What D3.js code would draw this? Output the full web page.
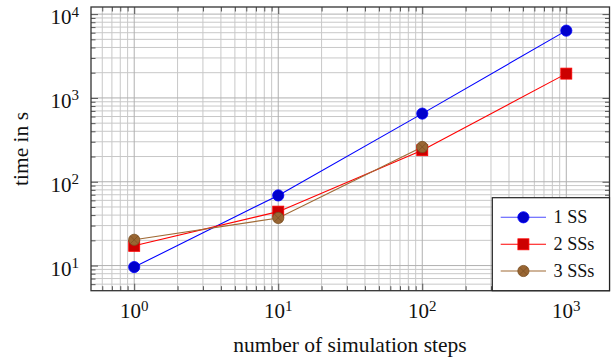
<!DOCTYPE html>
<html>
<head>
<meta charset="utf-8">
<script src="https://cdn.jsdelivr.net/npm/d3@7"></script>
<style>
  html, body { margin: 0; padding: 0; background: #fff; }
  svg { display: block; }
</style>
</head>
<body>
<div id="chart"></div>
<script>
// ---- data ----
const steps = [1, 10, 100, 1000];
const ss1 = [9.6, 68.7, 650, 6350];
const ss2 = [17.2, 44, 238, 1950];
const steps3 = [1, 10, 100];
const ss3 = [20.3, 37, 260];
const seriesNames = ["1 SS", "2 SSs", "3 SSs"];
const xTickExps = [0, 1, 2, 3];
const yTickExps = [1, 2, 3, 4];

(function () {
const W = 615, H = 357;
const pLeft = 91, pRight = 609.5, pTop = 7, pBottom = 290.7;
const FONT = "'Liberation Serif', 'Times New Roman', Times, serif";

const series = [
  { name: seriesNames[0], xs: steps, ys: ss1, line: "#0000ff", fill: "#0000cc", stroke: "#0000ff", mark: "circle" },
  { name: seriesNames[1], xs: steps, ys: ss2, line: "#ff0000", fill: "#cc0000", stroke: "#ff0000", mark: "square" },
  { name: seriesNames[2], xs: steps3, ys: ss3, line: "#a06a35", fill: "#996633", stroke: "#7a4f22", mark: "otimes" }
];

// domain with 10% log enlargement (pgfplots style)
const allY = [].concat(ss1, ss2, ss3).map(Math.log10);
const yMin = d3.min(allY), yMax = d3.max(allY);
const yPad = (yMax - yMin) * 0.1;
const allX = steps.map(Math.log10);
const xMin = d3.min(allX), xMax = d3.max(allX);
const xPad = (xMax - xMin) * 0.1;

const x = d3.scaleLog().domain([Math.pow(10, xMin - xPad), Math.pow(10, xMax + xPad)]).range([pLeft, pRight]);
const y = d3.scaleLog().domain([Math.pow(10, yMin - yPad), Math.pow(10, yMax + yPad)]).range([pBottom, pTop]);

const svg = d3.select("#chart").append("svg").attr("width", W).attr("height", H)
  .attr("font-family", FONT);

function minorVals(scale) {
  const [a, b] = scale.domain();
  const out = [];
  for (let e = Math.floor(Math.log10(a)) - 1; e <= Math.ceil(Math.log10(b)); e++) {
    for (let m = 2; m <= 9; m++) {
      const v = m * Math.pow(10, e);
      if (v >= a * 1.0001 && v <= b / 1.0001) out.push(v);
    }
  }
  return out;
}
const xMinor = minorVals(x), yMinor = minorVals(y);
const xMajor = xTickExps.map(e => Math.pow(10, e));
const yMajor = yTickExps.map(e => Math.pow(10, e));

const grid = svg.append("g");
grid.selectAll(".xmg").data(xMinor).enter().append("line")
  .attr("x1", d => x(d)).attr("x2", d => x(d)).attr("y1", pTop).attr("y2", pBottom)
  .attr("stroke", "#c8c8c8").attr("stroke-width", 1);
grid.selectAll(".ymg").data(yMinor).enter().append("line")
  .attr("y1", d => y(d)).attr("y2", d => y(d)).attr("x1", pLeft).attr("x2", pRight)
  .attr("stroke", "#c8c8c8").attr("stroke-width", 1);
grid.selectAll(".xMg").data(xMajor).enter().append("line")
  .attr("x1", d => x(d)).attr("x2", d => x(d)).attr("y1", pTop).attr("y2", pBottom)
  .attr("stroke", "#b0b0b0").attr("stroke-width", 1);
grid.selectAll(".yMg").data(yMajor).enter().append("line")
  .attr("y1", d => y(d)).attr("y2", d => y(d)).attr("x1", pLeft).attr("x2", pRight)
  .attr("stroke", "#b0b0b0").attr("stroke-width", 1);

// ticks (inside, all four sides) via d3 axes
const tickCol = "#555";
function styleAxis(g) {
  g.select(".domain").remove();
  g.selectAll("line").attr("stroke", tickCol).attr("stroke-width", 1);
  g.selectAll("text").remove();
}
svg.append("g").attr("transform", `translate(0,${pBottom})`)
  .call(d3.axisTop(x).tickValues(xMajor).tickSize(7)).call(styleAxis);
svg.append("g").attr("transform", `translate(0,${pBottom})`)
  .call(d3.axisTop(x).tickValues(xMinor).tickSize(4.5)).call(styleAxis);
svg.append("g").attr("transform", `translate(0,${pTop})`)
  .call(d3.axisBottom(x).tickValues(xMajor).tickSize(7)).call(styleAxis);
svg.append("g").attr("transform", `translate(0,${pTop})`)
  .call(d3.axisBottom(x).tickValues(xMinor).tickSize(4.5)).call(styleAxis);
svg.append("g").attr("transform", `translate(${pLeft},0)`)
  .call(d3.axisRight(y).tickValues(yMajor).tickSize(7)).call(styleAxis);
svg.append("g").attr("transform", `translate(${pLeft},0)`)
  .call(d3.axisRight(y).tickValues(yMinor).tickSize(4.5)).call(styleAxis);
svg.append("g").attr("transform", `translate(${pRight},0)`)
  .call(d3.axisLeft(y).tickValues(yMajor).tickSize(7)).call(styleAxis);
svg.append("g").attr("transform", `translate(${pRight},0)`)
  .call(d3.axisLeft(y).tickValues(yMinor).tickSize(4.5)).call(styleAxis);

// tick labels
const xl = svg.append("g").attr("fill", "#111");
xTickExps.forEach(e => {
  const t = xl.append("text").attr("x", x(Math.pow(10, e))).attr("y", 318.3)
    .attr("text-anchor", "middle").attr("font-size", 21).attr("font-family", FONT);
  t.append("tspan").text("10");
  t.append("tspan").attr("dy", -7.6).attr("font-size", 15).text(e);
});
yTickExps.forEach(e => {
  const t = xl.append("text").attr("x", 79).attr("y", y(Math.pow(10, e)) + 10)
    .attr("text-anchor", "end").attr("font-size", 21).attr("font-family", FONT);
  t.append("tspan").text("10");
  t.append("tspan").attr("dy", -7.6).attr("font-size", 15).text(e);
});

// axis titles
svg.append("text").attr("x", 350).attr("y", 351.5).attr("text-anchor", "middle")
  .attr("font-size", 21.5).attr("font-family", FONT).attr("fill", "#111").text("number of simulation steps");
svg.append("text").attr("transform", "translate(28,149) rotate(-90)")
  .attr("text-anchor", "middle").attr("font-size", 21.5).attr("font-family", FONT).attr("fill", "#111").text("time in s");

// series
const lineGen = d3.line().x(d => x(d[0])).y(d => y(d[1]));
function drawMark(g, mk, cx, cy, s) {
  if (mk === "circle") {
    g.append("circle").attr("cx", cx).attr("cy", cy).attr("r", 5.6)
      .attr("fill", s.fill).attr("stroke", s.stroke).attr("stroke-width", 0.8);
  } else if (mk === "square") {
    g.append("rect").attr("x", cx - 5.5).attr("y", cy - 5.5).attr("width", 11).attr("height", 11)
      .attr("fill", s.fill).attr("stroke", s.stroke).attr("stroke-width", 0.8);
  } else {
    const r = 5.6;
    g.append("circle").attr("cx", cx).attr("cy", cy).attr("r", r)
      .attr("fill", s.fill).attr("stroke", s.stroke).attr("stroke-width", 0.8);
    const k = r * Math.SQRT1_2;
    g.append("path").attr("d", `M${cx - k},${cy - k}L${cx + k},${cy + k}M${cx - k},${cy + k}L${cx + k},${cy - k}`)
      .attr("stroke", s.stroke).attr("stroke-width", 0.7).attr("fill", "none");
  }
}
series.forEach(s => {
  const pts = s.xs.map((v, i) => [v, s.ys[i]]);
  svg.append("path").datum(pts).attr("d", lineGen)
    .attr("fill", "none").attr("stroke", s.line).attr("stroke-width", 1.1);
});
series.forEach(s => {
  const g = svg.append("g");
  s.xs.forEach((v, i) => drawMark(g, s.mark, x(v), y(s.ys[i]), s));
});

// frame
svg.append("rect").attr("x", pLeft).attr("y", pTop).attr("width", pRight - pLeft).attr("height", pBottom - pTop)
  .attr("fill", "none").attr("stroke", "#333").attr("stroke-width", 1.3);

// legend
const lg = svg.append("g");
const lx0 = 492.3, ly0 = 197.7;
lg.append("rect").attr("x", lx0).attr("y", ly0).attr("width", pRight - lx0).attr("height", pBottom - ly0)
  .attr("fill", "#fff").attr("stroke", "#222").attr("stroke-width", 1.2);
const rowY = [217.3, 244.3, 271];
series.forEach((s, i) => {
  const yy = rowY[i];
  lg.append("line").attr("x1", 500.7).attr("x2", 546).attr("y1", yy).attr("y2", yy)
    .attr("stroke", s.line).attr("stroke-width", 1.1).attr("opacity", s.mark === "circle" ? 0.7 : 1);
  drawMark(lg, s.mark, 523.4, yy, s);
  lg.append("text").attr("x", 553.5).attr("y", yy + 6).attr("font-size", 18.2)
    .attr("font-family", FONT).attr("fill", "#111").text(s.name);
});
})();
</script>
</body>
</html>
